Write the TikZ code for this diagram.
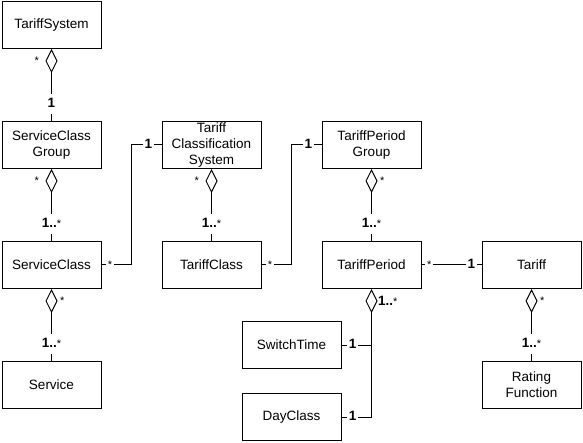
\documentclass[tikz,border=0pt]{standalone}
\usepackage{fontspec}
\setmainfont{Liberation Sans}
\usepackage{tikz}
\usetikzlibrary{arrows.meta}
\newcommand{\umlmany}{{\mdseries\fontsize{11}{12}\selectfont *}}

\begin{document}
\begin{tikzpicture}[x=1pt, y=-1pt, line width=1pt,
  every node/.style={font=\fontsize{13.5}{16}\selectfont},
  cls/.style={draw, minimum width=99pt, minimum height=47pt, inner sep=0pt, align=center},
  agg/.style={{Diamond[open, length=24pt, width=12pt]}-},
  mult/.style={fill=white, inner xsep=2pt, inner ysep=4pt, text height=9.5pt, text depth=2.5pt, font=\fontsize{13.5}{16}\selectfont\bfseries},
  multr/.style={right=6pt, inner sep=0pt, font=\fontsize{13.5}{16}\selectfont\bfseries},
  star/.style={fill=white, inner xsep=2pt, inner ysep=1pt, font=\fontsize{11}{12}\selectfont},
  starl/.style={left=12pt, inner sep=0pt, font=\fontsize{11}{12}\selectfont},
  starr/.style={right=8pt, inner sep=0pt, font=\fontsize{11}{12}\selectfont}]
  \useasboundingbox (0,0) rectangle (583,443);
  \node[cls] (tsys) at (51.5,25) {TariffSystem};
  \node[cls] (scg) at (51.5,145) {ServiceClass\\Group};
  \node[cls] (sc) at (51.5,265) {ServiceClass};
  \node[cls] (svc) at (51.5,385) {Service};
  \node[cls] (tcs) at (211.5,145) {Tariff\\Classification\\System};
  \node[cls] (tc) at (211.5,265) {TariffClass};
  \node[cls] (tpg) at (371.5,145) {TariffPeriod\\Group};
  \node[cls] (tp) at (371.5,265) {TariffPeriod};
  \node[cls] (tar) at (531.5,265) {Tariff};
  \node[cls] (rf) at (531.5,385) {Rating\\Function};
  \node[cls] (st) at (291.5,345) {SwitchTime};
  \node[cls] (dc) at (291.5,417) {DayClass};
  \draw[agg] (tsys.south) -- node[starl, pos=0.167] {*} node[mult, pos=0.76] {1} (scg.north);
  \draw[agg] (scg.south) -- node[starl, pos=0.167] {*} node[mult, pos=0.76] {1..\umlmany} (sc.north);
  \draw[agg] (sc.south) -- node[starr, pos=0.167] {*} node[mult, pos=0.76] {1..\umlmany} (svc.north);
  \draw[agg] (tcs.south) -- node[starl, pos=0.167] {*} node[mult, pos=0.76] {1..\umlmany} (tc.north);
  \draw[agg] (tpg.south) -- node[starr, pos=0.167] {*} node[mult, pos=0.76] {1..\umlmany} (tp.north);
  \draw[agg] (tar.south) -- node[starr, pos=0.167] {*} node[mult, pos=0.76] {1..\umlmany} (rf.north);
  \draw (sc.east) -- node[star, pos=0.28] {*} ++(30,0) |- node[mult, pos=0.78] {1} (tcs.west);
  \draw (tc.east) -- node[star, pos=0.28] {*} ++(30,0) |- node[mult, pos=0.78] {1} (tpg.west);
  \draw (tp.east) -- node[star, pos=0.13] {*} node[mult, pos=0.83] {1} (tar.west);
  \draw[agg] (tp.south) -- node[multr, pos=0.094] {1..\umlmany} (tp.south |- dc.east) -- node[mult, pos=0.63] {1} (dc.east);
  \draw (st.east) -- node[mult, pos=0.37] {1} (st.east -| tp.south);
\end{tikzpicture}
\end{document}
